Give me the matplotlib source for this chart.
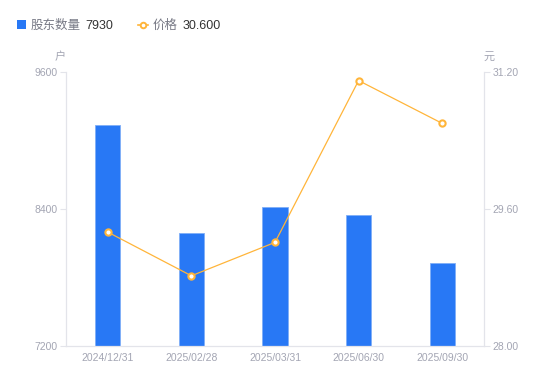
import matplotlib
matplotlib.use("Agg")
import matplotlib.pyplot as plt
from matplotlib.lines import Line2D
from matplotlib.patches import Rectangle

categories = ["2024/12/31", "2025/02/28", "2025/03/31", "2025/06/30", "2025/09/30"]
holders = [9138, 8192, 8415, 8345, 7930]
prices = [29.33, 28.82, 29.21, 31.10, 30.60]
left_ticks = [7200, 8400, 9600]
right_ticks = [28.00, 29.60, 31.20]

FAM = ["Liberation Sans", "Noto Sans CJK SC", "DejaVu Sans"]
plt.rcParams['font.family'] = FAM

BLUE = "#2878F5"
ORANGE = "#FFB53A"
GREY = "#A3A5B3"
SPINE = "#E3E4EA"

fig = plt.figure(figsize=(5.5, 3.81), dpi=100)
ax = fig.add_axes([66/550, 35/381, (484-66)/550, (346-72)/381])
ax2 = ax.twinx()

x = list(range(len(categories)))
ax.bar(x, holders, width=0.3, color=BLUE, edgecolor="#7FAEF7", linewidth=0.6, zorder=2)
ax.set_xlim(-0.5, len(categories) - 0.5)
ax.set_ylim(left_ticks[0], left_ticks[-1])
ax.set_yticks(left_ticks)
ax.set_yticklabels([str(v) for v in left_ticks])
ax.set_xticks(x)
ax.set_xticklabels(categories)

ax2.plot(x, prices, color=ORANGE, linewidth=0.9, marker="o", markersize=4.5,
         markerfacecolor="white", markeredgecolor=ORANGE, markeredgewidth=1.5, zorder=3)
ax2.set_ylim(right_ticks[0], right_ticks[-1])
ax2.set_yticks(right_ticks)
ax2.set_yticklabels([f"{v:.2f}" for v in right_ticks])

for a in (ax, ax2):
    for s in a.spines.values():
        s.set_color(SPINE)
        s.set_linewidth(0.9)
    a.spines['top'].set_visible(False)
    a.tick_params(axis='y', colors=SPINE, labelcolor=GREY, labelsize=7.5, length=4, width=0.8, pad=2)
    a.tick_params(axis='x', length=0, labelcolor=GREY, labelsize=7.5, pad=5)
ax.spines['right'].set_visible(False)
ax2.spines['left'].set_visible(False)
ax2.spines['bottom'].set_visible(False)
ax2.set_zorder(ax.get_zorder() + 1)
ax2.patch.set_visible(False)

# axis unit labels
fig.text(60/550, 1 - 57/381, "户", color=GREY, fontsize=8, ha="center", va="center")
fig.text(489/550, 1 - 57/381, "元", color=GREY, fontsize=8, ha="center", va="center")

# legend
ly = 1 - 24.5/381
fig.patches.append(Rectangle((17/550, ly - 4.5/381), 9/550, 9/381, transform=fig.transFigure,
                             facecolor=BLUE, edgecolor="none"))
fig.text(31/550, ly, "股东数量", color="#777985", fontsize=9, ha="left", va="center_baseline")
fig.text(85/550, ly, "7930", color="#333333", fontsize=9, ha="left", va="center_baseline")
fig.add_artist(Line2D([138/550, 148/550], [ly, ly], transform=fig.transFigure, color=ORANGE,
                      linewidth=1.2, zorder=5))
fig.add_artist(Line2D([143/550], [ly], transform=fig.transFigure, color=ORANGE, marker="o",
                      markersize=4, markerfacecolor="white", markeredgewidth=1.4, linestyle="none",
                      zorder=6))
fig.text(153/550, ly, "价格", color="#777985", fontsize=9, ha="left", va="center_baseline")
fig.text(183/550, ly, "30.600", color="#333333", fontsize=9, ha="left", va="center_baseline")

fig.savefig("out.png", dpi=100)
